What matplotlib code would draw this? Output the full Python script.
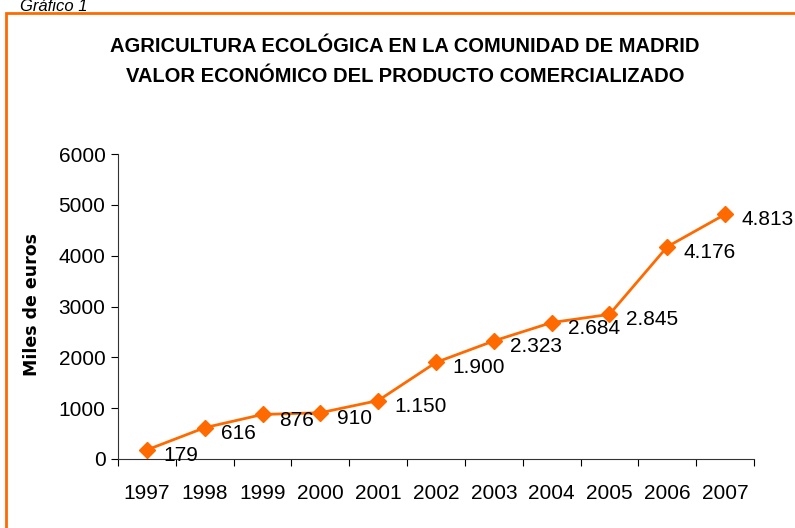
import matplotlib.pyplot as plt
from matplotlib.patches import Rectangle

# Data
years = ['1997', '1998', '1999', '2000', '2001', '2002', '2003', '2004', '2005', '2006', '2007']
values = [179, 616, 876, 910, 1150, 1900, 2323, 2684, 2845, 4176, 4813]
labels = ['179', '616', '876', '910', '1.150', '1.900', '2.323', '2.684', '2.845', '4.176', '4.813']

orange = '#FF6A00'
W, H = 795, 528

fig = plt.figure(figsize=(W / 100, H / 100), dpi=100)

# orange frame, running off the right and bottom edges
fig.patches.append(Rectangle((6 / W, -0.1), 1.2, (H - 13) / H + 0.1,
                             transform=fig.transFigure, fill=False,
                             edgecolor=orange, linewidth=2))
fig.text(20 / W, 1 - 11 / H, 'Gráfico 1', fontsize=12, style='italic',
         family='Liberation Sans', va='baseline', ha='left')

fig.text(405 / W, 1 - 46 / H, 'AGRICULTURA ECOLÓGICA EN LA COMUNIDAD DE MADRID',
         fontsize=14.5, weight='bold', family='Liberation Sans', ha='center', va='center')
fig.text(405 / W, 1 - 77 / H, 'VALOR ECONÓMICO DEL PRODUCTO COMERCIALIZADO',
         fontsize=14.5, weight='bold', family='Liberation Sans', ha='center', va='center')

ax = fig.add_axes([118 / W, 1 - 459 / H, (754 - 118) / W, (459 - 154) / H])
x = list(range(len(years)))
ax.plot(x, values, color=orange, linewidth=2, marker='D', markersize=8.5)

for xi, v, lab in zip(x, values, labels):
    ax.annotate(lab, (xi, v), xytext=(12, -4), textcoords='offset points',
                fontsize=15, family='Liberation Sans', ha='left', va='center')

ax.set_xlim(-0.5, len(years) - 0.5)
ax.set_ylim(0, 6000)
ax.set_yticks(range(0, 6001, 1000))
ax.set_xticks([i - 0.5 for i in range(len(years) + 1)])
ax.set_xticklabels([])
ax.set_xticks(x, minor=True)
ax.set_xticklabels(years, minor=True)
ax.tick_params(axis='x', which='minor', length=0, pad=18, labelsize=15)
ax.tick_params(axis='x', which='major', length=5, direction='out')
ax.tick_params(axis='y', length=5, direction='out', labelsize=15, pad=4)
for lab in ax.get_xticklabels(minor=True) + ax.get_yticklabels():
    lab.set_family('Liberation Sans')

ax.spines['top'].set_visible(False)
ax.spines['right'].set_visible(False)
ax.spines['left'].set_color('#333333')
ax.spines['bottom'].set_color('#333333')

fig.text(32 / W, 1 - 305 / H, 'Miles de euros', rotation=90, fontsize=12.5,
         weight='bold', family='DejaVu Sans', ha='center', va='center')

fig.savefig('out.png', dpi=100)
